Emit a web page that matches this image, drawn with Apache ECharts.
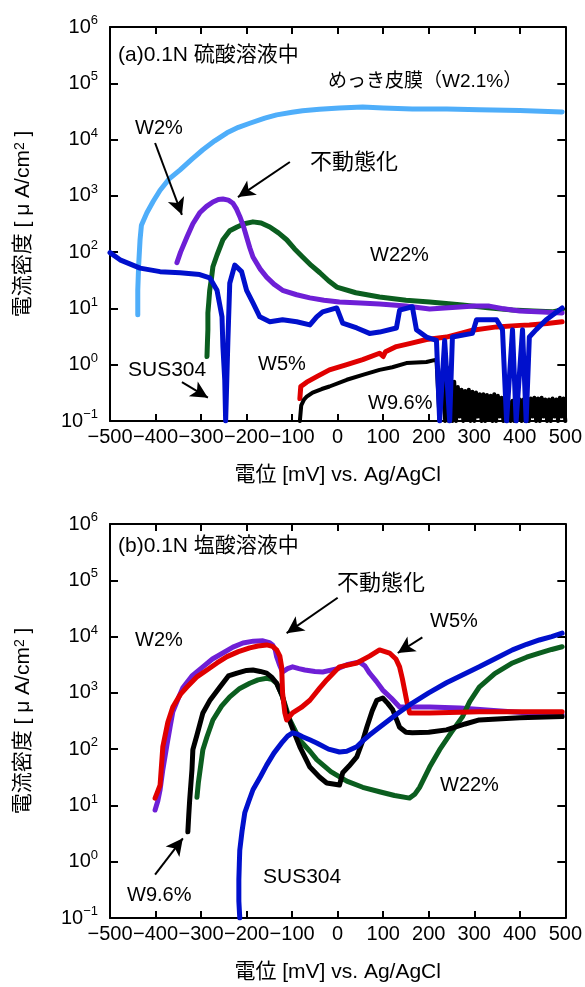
<!DOCTYPE html>
<html>
<head>
<meta charset="utf-8">
<script src="https://cdn.jsdelivr.net/npm/echarts@6/dist/echarts.min.js"></script>
<style>
  html, body { margin: 0; padding: 0; background: #fff; }
  #main { width: 585px; height: 987px; }
</style>
</head>
<body>
<div id="main"></div>
<script>
// ---- data: [potential mV, current density uA/cm2] ----
// (a) 0.1N sulfuric acid
var platingA = [[-439,7.7],[-439,21],[-437,60],[-434,166],[-431,300],[-419,500],[-405,800],[-390,1260],[-370,2000],[-346,2900],[-320,4500],[-296,6600],[-270,9500],[-243,13200],[-218,16500],[-193,19500],[-160,24000],[-134,27500],[-100,30500],[-77,32500],[-40,34500],[4,36500],[55,38000],[100,36500],[164,35000],[240,35000],[311,34000],[400,33000],[493,31000]];
var w2A = [[-353,65],[-345,100],[-331,186],[-318,320],[-303,500],[-288,650],[-274,780],[-262,860],[-252,880],[-240,840],[-230,740],[-222,580],[-215,430],[-207,290],[-200,186],[-193,120],[-186,82],[-170,50],[-156,36],[-140,27],[-121,21],[-90,17.5],[-61,15.4],[-30,14],[4,13],[50,12.5],[92,12],[150,11],[202,9.8],[260,10.5],[300,11],[333,11],[360,10],[400,9],[450,8.6],[493,8.3]];
var w22A = [[-287,1.4],[-286,2.5],[-285,4.2],[-285,8.3],[-283,13],[-281,21],[-277,35],[-274,55],[-265,89],[-252,166],[-237,240],[-221,280],[-205,320],[-186,345],[-168,330],[-149,280],[-130,220],[-112,166],[-95,115],[-77,82],[-58,58],[-39,43],[-20,31],[-2,24],[40,19],[92,16],[150,14],[202,13],[274,11.5],[330,10.3],[384,9.4],[430,9],[471,8.7],[493,9.4]];
var susA = [[-500,98],[-478,73],[-434,52],[-390,45],[-346,43],[-303,40],[-281,35],[-265,21],[-254,7.1],[-252,2.1],[-248,0.54],[-246,0.1],[-241,2.8],[-237,28],[-226,59],[-211,45],[-200,21],[-186,12.5],[-171,7.1],[-149,5.8],[-121,6.3],[-90,5.8],[-61,5.1],[-46,7.1],[-33,8.7],[-2,10.2],[11,5.5],[42,4.5],[70,3.6],[92,3.8],[129,4.5],[136,9.3],[164,10.7],[173,4.2],[195,3.1],[217,2.7],[224,0.1],[235,2.7],[246,0.1],[252,3.1],[296,3.6],[305,6.3],[349,6.3],[362,4.2],[371,0.1],[384,4.2],[392,0.1],[406,4.2],[414,0.1],[421,3.1],[436,4.2],[458,6.3],[493,10.2]];
var w5A = [[-83,0.25],[-81,0.41],[-68,0.49],[-45,0.62],[-18,0.81],[20,1.0],[55,1.23],[92,1.6],[100,1.4],[105,1.7],[129,2.1],[160,2.4],[195,2.8],[239,3.1],[270,3.6],[296,4.1],[349,4.7],[400,5.0],[421,5.1],[460,5.4],[493,5.8]];
var w96A = [[-83,0.1],[-80,0.19],[-74,0.24],[-68,0.27],[-55,0.32],[-35,0.37],[-18,0.41],[20,0.54],[55,0.66],[92,0.81],[120,0.9],[151,1.07],[195,1.12],[217,1.23],[224,0.1],[232,1.1],[236,0.1],[240,0.9],[244,0.1],[248,0.7],[252,0.1],[256,0.5],[260,0.1],[264,0.4],[268,0.12],[272,0.36],[276,0.1],[280,0.34],[284,0.11],[288,0.36],[292,0.1],[296,0.33],[300,0.1],[304,0.32],[308,0.12],[312,0.3],[316,0.1],[320,0.3],[324,0.1],[328,0.29],[332,0.11],[336,0.28],[340,0.1],[344,0.3],[348,0.1],[352,0.28],[356,0.12],[360,0.26],[364,0.1],[368,0.24],[372,0.1],[376,0.22],[380,0.1],[384,0.23],[388,0.1],[392,0.22],[396,0.11],[400,0.24],[404,0.1],[408,0.24],[412,0.1],[416,0.23],[420,0.1],[424,0.25],[428,0.12],[432,0.26],[436,0.1],[440,0.25],[444,0.1],[448,0.26],[452,0.12],[456,0.24],[460,0.1],[464,0.24],[468,0.1],[472,0.25],[476,0.12],[480,0.24],[484,0.1],[488,0.26],[492,0.12],[496,0.25],[500,0.1]];

// (b) 0.1N hydrochloric acid
var w2B = [[-401,8.3],[-395,12],[-390,19],[-384,43],[-375,118],[-368,250],[-362,460],[-350,800],[-340,1230],[-320,2000],[-296,2900],[-275,4000],[-252,5100],[-230,6500],[-208,7700],[-185,8300],[-164,8400],[-150,7800],[-143,7100],[-137,5800],[-134,4400],[-128,3200],[-121,2350],[-110,2700],[-99,2900],[-85,2700],[-72,2550],[-50,2400],[-33,2350],[0,2700],[20,3150],[48,3550],[60,3000],[70,2250],[85,1600],[99,1120],[118,800],[136,560],[170,560],[202,560],[268,540],[350,480],[420,440],[493,405]];
var w5B = [[-401,13.5],[-395,18],[-390,23],[-384,110],[-373,300],[-362,560],[-345,950],[-331,1270],[-310,1900],[-287,2550],[-265,3400],[-243,4400],[-218,5400],[-193,6300],[-175,6800],[-156,7100],[-143,6700],[-134,5800],[-127,4500],[-123,2900],[-121,1000],[-116,440],[-112,330],[-99,440],[-80,550],[-61,740],[-40,1200],[-24,1700],[4,2900],[42,3400],[70,4500],[92,5800],[114,5100],[128,4000],[136,2900],[142,1800],[147,1120],[152,700],[158,440],[202,440],[311,460],[400,460],[493,460]];
var w96B = [[-329,3.4],[-327,6.8],[-325,12.5],[-320,43],[-318,98],[-309,178],[-296,440],[-280,750],[-259,1260],[-240,2000],[-221,2240],[-200,2500],[-186,2550],[-170,2400],[-156,2240],[-145,1900],[-134,1480],[-122,900],[-112,440],[-98,220],[-83,110],[-61,48],[-40,32],[-24,25],[4,23],[11,38],[25,50],[42,73],[55,140],[64,245],[76,480],[86,740],[99,810],[110,650],[121,500],[136,245],[150,200],[164,195],[200,200],[239,220],[280,280],[311,330],[400,360],[493,380]];
var w22B = [[-309,14],[-306,25],[-303,38],[-296,98],[-287,166],[-274,330],[-255,580],[-237,850],[-215,1200],[-193,1480],[-175,1700],[-156,1820],[-145,1750],[-134,1480],[-121,850],[-105,330],[-83,145],[-60,90],[-46,65],[-15,40],[20,27],[55,21],[92,17.5],[125,15],[158,13.5],[170,16],[180,21],[202,48],[224,98],[250,200],[274,375],[290,700],[311,1260],[345,2200],[384,3400],[415,4300],[443,5100],[470,5900],[493,6600]];
var susB = [[-215,0.1],[-217,0.2],[-217,0.48],[-216,0.9],[-215,1.6],[-210,3.5],[-204,7.4],[-195,12],[-186,19],[-170,32],[-156,52],[-140,85],[-121,135],[-110,170],[-99,195],[-88,185],[-77,166],[-60,145],[-46,129],[-20,100],[4,89],[20,92],[42,110],[55,140],[70,178],[92,245],[130,420],[164,660],[200,1000],[239,1510],[275,2100],[311,2900],[350,4200],[384,5800],[415,7300],[443,8700],[470,10000],[493,11500]];

// arrows: [from, to] in data coords
var arrowsA = [[[-401,8700],[-342,460]], [[-105,4000],[-219,950]], [[-342,0.49],[-285,0.26]]];
var arrowsB = [[[0,49000],[-112,11500]], [[186,9700],[132,5100]], [[-401,0.59],[-340,2.6]]];

var FONT = "'Liberation Sans', 'Noto Sans CJK JP', sans-serif";
var C = {plating:'#4FAEFA', w2:'#6E1FD6', w22:'#0B5E1F', sus:'#0010CC', w5:'#E00000', w96:'#000000'};

var myChart = echarts.init(document.getElementById('main'));

function sup(v){
    var n = Math.round(Math.log10(v));
    return '{b|10}{s|' + (n < 0 ? '\u2212' + (-n) : n) + '}';
}
function xlab(v){
    return v < 0 ? '\u2212' + (-v) : '' + v;
}

var axisLineStyle = {color:'#000', width:2};
function xAxes(g){
    return [{
        type:'value', gridIndex:g, min:-500, max:500, interval:100, position:'bottom',
        axisLine:{show:true, onZero:false, lineStyle:axisLineStyle},
        axisTick:{show:true, inside:true, length:7, lineStyle:{width:2}},
        splitLine:{show:false},
        axisLabel:{formatter:xlab, color:'#000', fontFamily:FONT, fontSize:20, margin:6},
        name:'電位 [mV] vs. Ag/AgCl', nameLocation:'middle', nameGap:44,
        nameTextStyle:{color:'#000', fontFamily:FONT, fontSize:21}
    },{
        type:'value', gridIndex:g, min:-500, max:500, interval:100, position:'top',
        axisLine:{show:true, onZero:false, lineStyle:axisLineStyle},
        axisTick:{show:true, inside:true, length:7, lineStyle:{width:2}},
        splitLine:{show:false}, axisLabel:{show:false}
    }];
}
function yAxes(g){
    return [{
        type:'log', logBase:10, gridIndex:g, min:0.1, max:1e6, splitNumber:7, position:'left',
        axisLine:{show:true, onZero:false, lineStyle:axisLineStyle},
        axisTick:{show:true, inside:true, length:8, lineStyle:{width:2}},
        splitLine:{show:false},
        axisLabel:{formatter:sup, margin:12, color:'#000', fontFamily:FONT,
            rich:{b:{fontSize:20, lineHeight:26, fontFamily:FONT, color:'#000'},
                  s:{fontSize:13, lineHeight:13, verticalAlign:'top', fontFamily:FONT, color:'#000'}}},
        name:'電流密度 [ μ A/cm{s|2} ]', nameLocation:'middle', nameGap:76, nameRotate:90,
        nameTextStyle:{color:'#000', fontFamily:FONT, fontSize:21,
            rich:{s:{fontSize:14, verticalAlign:'top', fontFamily:FONT, color:'#000'}}}
    },{
        type:'log', logBase:10, gridIndex:g, min:0.1, max:1e6, splitNumber:7, position:'right',
        axisLine:{show:true, onZero:false, lineStyle:axisLineStyle},
        axisTick:{show:true, inside:true, length:8, lineStyle:{width:2}},
        splitLine:{show:false}, axisLabel:{show:false}
    }];
}

function line(name, data, color, g, w){
    return {
        name:name, type:'line', data:data, xAxisIndex:g*2, yAxisIndex:g*2,
        showSymbol:false, symbol:'none', clip:true, animation:false,
        lineStyle:{color:color, width:w || 5, join:'round', cap:'round'}
    };
}
function arrows(list, g){
    return {
        type:'line', data:[], xAxisIndex:g*2, yAxisIndex:g*2, animation:false,
        markLine:{
            silent:true, animation:false, symbol:['none','arrow'], symbolSize:[13,17],
            lineStyle:{color:'#000', width:2, type:'solid'}, label:{show:false},
            data: list.map(function(a){ return [{coord:a[0]},{coord:a[1]}]; })
        }
    };
}

function txt(x, y, s, size, align){
    return {type:'text', x:x, y:y, z:100,
        style:{text:s, fill:'#000', font:(size||20)+'px ' + FONT, textAlign:align||'left', textVerticalAlign:'middle'}};
}

var option = {
    backgroundColor:'#fff',
    animation:false,
    grid:[
        {left:110, top:27, width:456, height:394},
        {left:110, top:524, width:456, height:394}
    ],
    xAxis: xAxes(0).concat(xAxes(1)),
    yAxis: yAxes(0).concat(yAxes(1)),
    series:[
        line('めっき皮膜(W2.1%)', platingA, C.plating, 0),
        line('W22%', w22A, C.w22, 0),
        line('W2%', w2A, C.w2, 0),
        line('W5%', w5A, C.w5, 0),
        line('W9.6%', w96A, C.w96, 0, 4),
        line('SUS304', susA, C.sus, 0),
        arrows(arrowsA, 0),
        line('W2%', w2B, C.w2, 1),
        line('W22%', w22B, C.w22, 1),
        line('W9.6%', w96B, C.w96, 1),
        line('W5%', w5B, C.w5, 1),
        line('SUS304', susB, C.sus, 1),
        arrows(arrowsB, 1)
    ],
    graphic:[
        txt(118, 55, '(a)0.1N 硫酸溶液中', 21),
        txt(328, 82, 'めっき皮膜（W2.1%）', 19),
        txt(135, 128, 'W2%', 20),
        txt(310, 163, '不動態化', 22),
        txt(370, 255, 'W22%', 20),
        txt(258, 364, 'W5%', 20),
        txt(128, 370, 'SUS304', 21),
        txt(368, 403, 'W9.6%', 20),
        txt(118, 546, '(b)0.1N 塩酸溶液中', 21),
        txt(135, 640, 'W2%', 20),
        txt(337, 584, '不動態化', 22),
        txt(430, 621, 'W5%', 20),
        txt(440, 785, 'W22%', 20),
        txt(263, 877, 'SUS304', 21),
        txt(127, 895, 'W9.6%', 20)
    ]
};
myChart.setOption(option);
</script>
</body>
</html>
